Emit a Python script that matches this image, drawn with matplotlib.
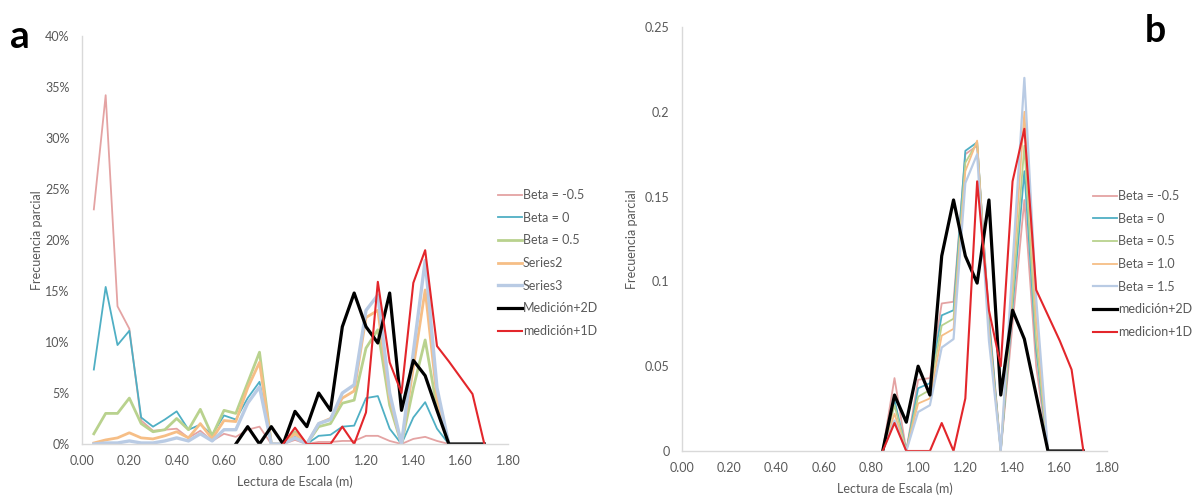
import matplotlib
matplotlib.use("Agg")
import matplotlib.pyplot as plt
from matplotlib.ticker import FixedLocator, FuncFormatter

plt.rcParams['font.family'] = ['Lato', 'DejaVu Sans']

# ---------------- Panel a data (partial frequency, %) ----------------
x_beta_a = [0.05, 0.10, 0.15, 0.20, 0.25, 0.30, 0.35, 0.40, 0.45, 0.50,
            0.55, 0.60, 0.65, 0.70, 0.75, 0.80, 0.85, 0.90, 0.95, 1.00,
            1.05, 1.10, 1.15, 1.20, 1.25, 1.30, 1.35, 1.40, 1.45, 1.50, 1.55]
beta_m05_a = [23.0, 34.2, 13.5, 11.3, 2.3, 1.3, 1.4, 1.5, 0.6, 1.3,
              0.3, 1.0, 0.7, 1.4, 1.7, 0.0, 0.0, 0.4, 0.0, 0.2,
              0.2, 0.3, 0.3, 0.8, 0.8, 0.3, 0.0, 0.5, 0.7, 0.3, 0.0]
beta_0_a = [7.3, 15.4, 9.7, 11.1, 2.6, 1.7, 2.4, 3.2, 1.4, 1.9,
            0.9, 2.8, 2.4, 4.5, 6.1, 0.0, 0.0, 0.7, 0.0, 0.8,
            0.9, 1.7, 1.8, 4.5, 4.7, 1.5, 0.0, 2.6, 4.1, 1.5, 0.0]
beta_05_a = [1.0, 3.0, 3.0, 4.5, 2.0, 1.2, 1.4, 2.5, 1.4, 3.4,
             0.8, 3.3, 3.0, 6.0, 9.0, 0.0, 0.0, 1.2, 0.0, 1.7,
             2.0, 4.0, 4.3, 9.4, 11.2, 3.8, 0.0, 5.5, 10.2, 3.5, 0.0]
series2_a = [0.1, 0.4, 0.6, 1.1, 0.6, 0.5, 0.8, 1.2, 0.6, 2.0,
             0.5, 2.3, 2.2, 5.5, 8.0, 0.0, 0.0, 1.0, 0.0, 2.0,
             2.5, 4.5, 5.2, 12.4, 13.1, 4.5, 0.0, 7.5, 15.1, 4.5, 0.0]
series3_a = [0.0, 0.1, 0.1, 0.3, 0.1, 0.1, 0.3, 0.6, 0.3, 1.0,
             0.3, 1.4, 1.4, 4.0, 5.6, 0.0, 0.0, 0.6, 0.0, 2.0,
             2.4, 5.0, 5.8, 13.1, 14.6, 5.0, 0.0, 9.0, 18.0, 5.5, 0.0]

x_med2_a = [0.65, 0.70, 0.75, 0.80, 0.85, 0.90, 0.95, 1.00, 1.05, 1.10, 1.15,
            1.20, 1.25, 1.30, 1.35, 1.40, 1.45, 1.50, 1.55, 1.60, 1.65, 1.70]
med2_a = [0.0, 1.7, 0.0, 1.7, 0.0, 3.2, 1.7, 5.0, 3.3, 11.5, 14.8,
          11.5, 9.9, 14.8, 3.3, 8.2, 6.7, 3.3, 0.0, 0.0, 0.0, 0.0]

x_med1_a = [0.85, 0.90, 0.95, 1.00, 1.05, 1.10, 1.15, 1.20, 1.25,
            1.30, 1.35, 1.40, 1.45, 1.50, 1.55, 1.60, 1.65, 1.70]
med1_a = [0.0, 1.6, 0.0, 0.0, 0.0, 1.7, 0.0, 3.1, 15.9,
          8.0, 5.0, 15.8, 19.0, 9.6, 8.1, 6.5, 4.9, 0.0]

# ---------------- Panel b data (partial frequency, fraction) ----------------
x_beta_b = [0.85, 0.90, 0.95, 1.00, 1.05, 1.10, 1.15, 1.20,
            1.25, 1.30, 1.35, 1.40, 1.45, 1.50, 1.55]
beta_m05_b = [0.0, 0.043, 0.0, 0.042, 0.043, 0.087, 0.088, 0.175,
              0.180, 0.080, 0.0, 0.075, 0.148, 0.050, 0.0]
beta_0_b = [0.0, 0.030, 0.0, 0.037, 0.040, 0.080, 0.083, 0.177,
            0.182, 0.077, 0.0, 0.085, 0.165, 0.060, 0.0]
beta_05_b = [0.0, 0.027, 0.0, 0.032, 0.036, 0.074, 0.078, 0.170,
             0.182, 0.072, 0.0, 0.090, 0.180, 0.065, 0.0]
beta_10_b = [0.0, 0.022, 0.0, 0.028, 0.031, 0.068, 0.072, 0.165,
             0.183, 0.070, 0.0, 0.100, 0.200, 0.077, 0.0]
beta_15_b = [0.0, 0.018, 0.0, 0.023, 0.027, 0.061, 0.066, 0.158,
             0.175, 0.065, 0.0, 0.110, 0.220, 0.090, 0.0]

x_meas_b = [0.85, 0.90, 0.95, 1.00, 1.05, 1.10, 1.15, 1.20, 1.25,
            1.30, 1.35, 1.40, 1.45, 1.50, 1.55, 1.60, 1.65, 1.70]
med2_b = [0.0, 0.033, 0.017, 0.050, 0.033, 0.115, 0.148, 0.115, 0.099,
          0.148, 0.033, 0.083, 0.066, 0.033, 0.0, 0.0, 0.0, 0.0]
med1_b = [0.0, 0.0165, 0.0, 0.0, 0.0, 0.0165, 0.0, 0.031, 0.159,
          0.083, 0.050, 0.159, 0.190, 0.095, 0.080, 0.065, 0.048, 0.0]

x_ticks = [0.0, 0.2, 0.4, 0.6, 0.8, 1.0, 1.2, 1.4, 1.6, 1.8]
y_ticks_a = [0, 5, 10, 15, 20, 25, 30, 35, 40]
y_ticks_b = [0, 0.05, 0.1, 0.15, 0.2, 0.25]

labels_a = ["Beta = -0.5", "Beta = 0", "Beta = 0.5", "Series2", "Series3",
            "Medición+2D", "medición+1D"]
labels_b = ["Beta = -0.5", "Beta = 0", "Beta = 0.5", "Beta = 1.0", "Beta = 1.5",
            "medición+2D", "medicion+1D"]

C_PINK = "#E4A3A3"
C_TEAL = "#4FAFC4"
C_GREEN = "#B9D28E"
C_ORANGE = "#F6BE86"
C_LBLUE = "#B9CBE4"
C_BLACK = "#000000"
C_RED = "#E3262B"
TXT = "#595959"
SPINE = "#D9D9D9"
FS = 9

W, H = 1197, 496
fig = plt.figure(figsize=(W / 100, H / 100), dpi=100)


def style_axes(ax, xlabel_pad):
    for s in ("top", "right"):
        ax.spines[s].set_visible(False)
    for s in ("left", "bottom"):
        ax.spines[s].set_color(SPINE)
        ax.spines[s].set_linewidth(1.0)
    ax.tick_params(axis="both", length=0, colors=TXT, labelsize=FS)
    ax.tick_params(axis="x", pad=8)
    ax.tick_params(axis="y", pad=9)
    ax.set_xlim(0, 1.8)
    ax.xaxis.set_major_locator(FixedLocator(x_ticks))
    ax.xaxis.set_major_formatter(FuncFormatter(lambda v, p: f"{v:.2f}"))
    ax.set_xlabel("Lectura de Escala (m)", color=TXT, fontsize=FS, labelpad=xlabel_pad)
    ax.set_ylabel("Frecuencia parcial", color=TXT, fontsize=FS)


def add_legend(handles, labels, x_px, y_px):
    fig.legend(handles, labels, loc="center left", frameon=False,
               bbox_to_anchor=(x_px / W, 1 - y_px / H), bbox_transform=fig.transFigure,
               fontsize=FS, labelcolor=TXT, handlelength=1.9, handletextpad=0.1,
               labelspacing=0.85, borderpad=0, borderaxespad=0)


# ---------------- Panel a ----------------
ax1 = fig.add_axes([82 / W, 1 - 444 / H, 426 / W, 408 / H])
lines_a = [
    ax1.plot(x_beta_a, beta_m05_a, color=C_PINK, lw=1.3)[0],
    ax1.plot(x_beta_a, beta_0_a, color=C_TEAL, lw=1.3)[0],
    ax1.plot(x_beta_a, beta_05_a, color=C_GREEN, lw=2.0)[0],
    ax1.plot(x_beta_a, series2_a, color=C_ORANGE, lw=2.0)[0],
    ax1.plot(x_beta_a, series3_a, color=C_LBLUE, lw=2.4)[0],
    ax1.plot(x_med2_a, med2_a, color=C_BLACK, lw=2.3)[0],
    ax1.plot(x_med1_a, med1_a, color=C_RED, lw=1.5)[0],
]
style_axes(ax1, 6)
ax1.set_ylim(0, 40)
ax1.yaxis.set_major_locator(FixedLocator(y_ticks_a))
ax1.yaxis.set_major_formatter(FuncFormatter(lambda v, p: f"{v:.0f}%"))
ax1.yaxis.set_label_coords(-0.092, 0.5)
add_legend(lines_a, labels_a, 498, 263)

# ---------------- Panel b ----------------
ax2 = fig.add_axes([682 / W, 1 - 451 / H, 425 / W, 424 / H])
lines_b = [
    ax2.plot(x_beta_b, beta_m05_b, color=C_PINK, lw=1.3)[0],
    ax2.plot(x_beta_b, beta_0_b, color=C_TEAL, lw=1.3)[0],
    ax2.plot(x_beta_b, beta_05_b, color=C_GREEN, lw=1.3)[0],
    ax2.plot(x_beta_b, beta_10_b, color=C_ORANGE, lw=1.3)[0],
    ax2.plot(x_beta_b, beta_15_b, color=C_LBLUE, lw=1.6)[0],
    ax2.plot(x_meas_b, med2_b, color=C_BLACK, lw=2.3)[0],
    ax2.plot(x_meas_b, med1_b, color=C_RED, lw=1.5)[0],
]
style_axes(ax2, 6)
ax2.set_ylim(0, 0.25)
ax2.yaxis.set_major_locator(FixedLocator(y_ticks_b))
ax2.yaxis.set_major_formatter(FuncFormatter(lambda v, p: f"{v:g}"))
ax2.yaxis.set_label_coords(-0.104, 0.5)
add_legend(lines_b, labels_b, 1093, 264)

# Panel letters
fig.text(20 / W, 1 - 36 / H, "a", fontsize=28, fontweight="bold",
         ha="center", va="center", color="black")
fig.text(1155 / W, 1 - 31 / H, "b", fontsize=27, fontweight="bold",
         ha="center", va="center", color="black")

fig.savefig("out.png", dpi=100, facecolor="white")
